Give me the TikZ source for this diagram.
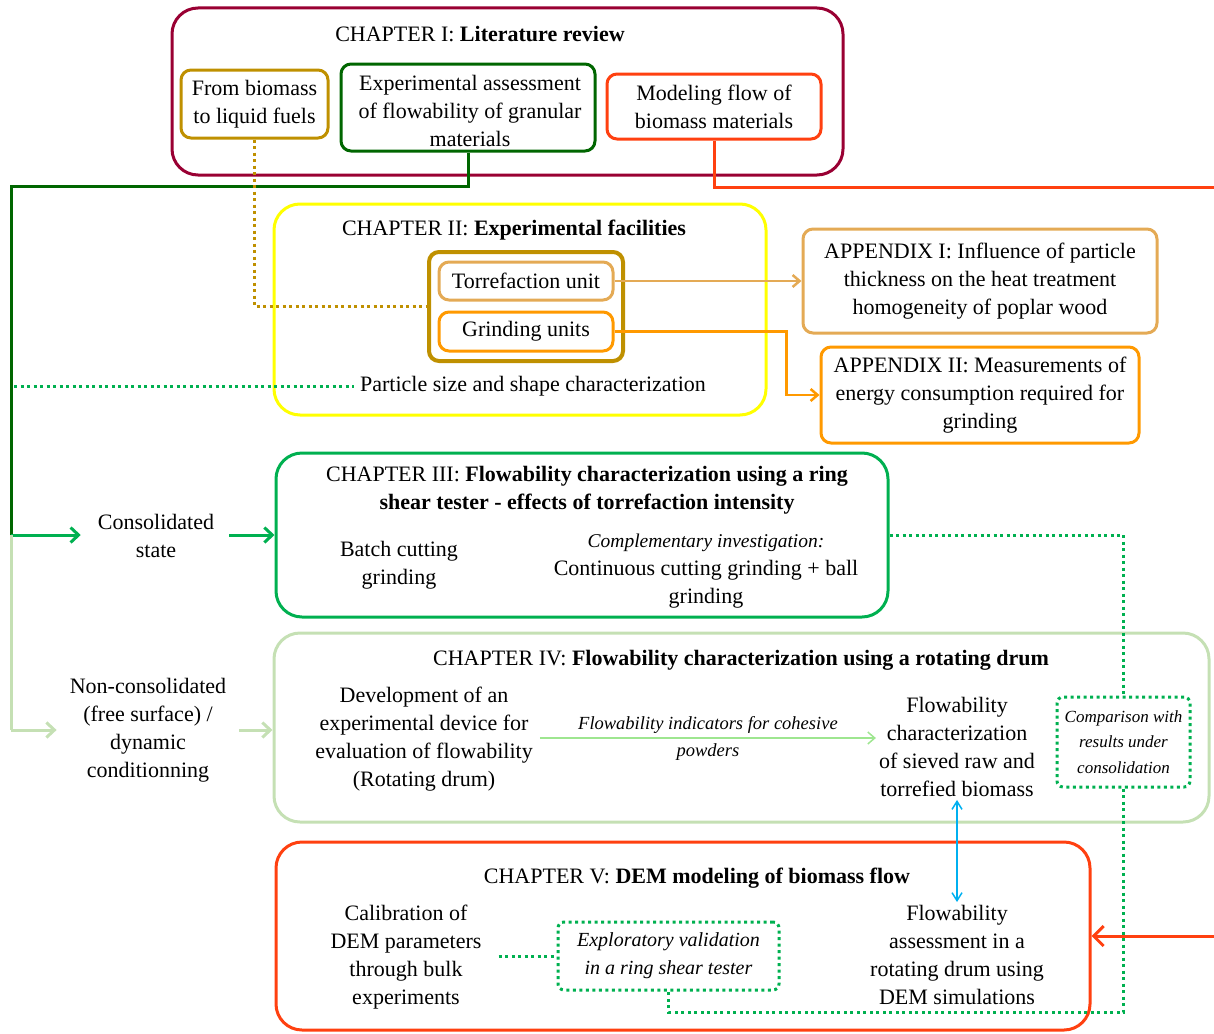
\documentclass[tikz,border=0pt]{standalone}
\usepackage{fontspec}
\setmainfont{Liberation Serif}
\usetikzlibrary{arrows.meta}
\definecolor{crimson}{RGB}{153,0,51}
\definecolor{gold}{RGB}{191,144,0}
\definecolor{dkgreen}{RGB}{0,102,0}
\definecolor{redor}{RGB}{255,64,16}
\definecolor{yel}{RGB}{255,255,0}
\definecolor{tan}{RGB}{228,170,85}
\definecolor{orng}{RGB}{255,153,0}
\definecolor{grn}{RGB}{0,176,80}
\definecolor{ltgreen}{RGB}{197,224,180}
\definecolor{blu}{RGB}{0,176,240}
\newcommand{\mainfs}{\fontsize{22}{28}\selectfont}
\begin{document}
\begin{tikzpicture}[x=1pt,y=-1pt,
  box/.style={draw,line width=3pt,rounded corners=10pt,inner sep=0pt,align=center,font=\mainfs},
  chap/.style={draw,line width=3pt,rounded corners=26pt,inner sep=0pt},
  txt/.style={align=center,inner sep=3pt,font=\mainfs},
  dotbox/.style={draw=grn,line width=3pt,dash pattern=on 3pt off 3.5pt,rounded corners=6pt,inner sep=0pt,align=center},
  dotline/.style={line width=3pt,dash pattern=on 3pt off 3.5pt},
  barb/.style={-{Straight Barb[length=8pt,width=15pt]}},
]
\useasboundingbox (0,0) rectangle (1214,1033);

% ---------- Chapter I ----------
\node[chap,draw=crimson,minimum width=671pt,minimum height=167pt] (ch1) at (507.5,91.5) {};
\node[txt] (t1) at (480,34) {CHAPTER I: \textbf{Literature review}};
\node[box,draw=gold,minimum width=147pt,minimum height=68pt] (fb) at (254.5,104) {From biomass\\to liquid fuels};
\node[box,draw=dkgreen,minimum width=254pt,minimum height=87pt] (ea) at (468,107.5) {};
\node[txt] (eatxt) at (470,111) {Experimental assessment\\of flowability of granular\\materials};
\node[box,draw=redor,minimum width=214pt,minimum height=65pt] (mf) at (714,106.5) {Modeling flow of\\biomass materials};

% ---------- Chapter II ----------
\node[chap,draw=yel,minimum width=492pt,minimum height=211pt] (ch2) at (520,309.5) {};
\node[txt] (t2) at (514,230) {CHAPTER II: \textbf{Experimental facilities}};
\node[draw=gold,line width=4pt,rounded corners=10pt,minimum width=194pt,minimum height=109pt] (grp) at (526,306.5) {};
\node[box,draw=tan,minimum width=174pt,minimum height=38pt] (torr) at (526,281) {Torrefaction unit};
\node[box,draw=orng,minimum width=174pt,minimum height=39pt] (grind) at (526,331.5) {Grinding units};
\node[txt,inner sep=6pt] (psc) at (533,386) {Particle size and shape characterization};
\node[box,draw=tan,minimum width=354pt,minimum height=104pt] (app1) at (980,281) {APPENDIX I: Influence of particle\\thickness on the heat treatment\\homogeneity of poplar wood};
\node[box,draw=orng,minimum width=318pt,minimum height=96pt] (app2) at (980,395) {APPENDIX II: Measurements of\\energy consumption required for\\grinding};

% ---------- Chapter III ----------
\node[chap,draw=grn,minimum width=612pt,minimum height=164pt] (ch3) at (582,535) {};
\node[txt] (t3) at (587,490) {CHAPTER III: \textbf{Flowability characterization using a ring}\\\textbf{shear tester - effects of torrefaction intensity}};
\node[txt] (batch) at (399,565) {Batch cutting\\grinding};
\node[txt] (compl) at (706,571) {{\fontsize{19.5}{28}\selectfont\itshape Complementary investigation:}\\Continuous cutting grinding + ball\\grinding};
\node[txt] (cons) at (156,535.5) {Consolidated\\state};

% ---------- Chapter IV ----------
\node[chap,draw=ltgreen,minimum width=935pt,minimum height=189pt] (ch4) at (741.5,727.5) {};
\node[txt] (t4) at (741,660) {CHAPTER IV: \textbf{Flowability characterization using a rotating drum}};
\node[txt] (noncons) at (148,730) {Non-consolidated\\(free surface) /\\dynamic\\conditionning};
\node[txt] (dev) at (424,739) {Development of an\\experimental device for\\evaluation of flowability\\(Rotating drum)};
\node[txt] (fc) at (957,747) {Flowability\\characterization\\of sieved raw and\\torrefied biomass};
\node[dotbox,minimum width=133pt,minimum height=90pt,font=\fontsize{17}{25.5}\selectfont\itshape] (comp) at (1123.5,742) {Comparison with\\results under\\consolidation};

% ---------- Chapter V ----------
\node[chap,draw=redor,minimum width=814pt,minimum height=188pt] (ch5) at (683,936) {};
\node[txt] (t5) at (697,878) {CHAPTER V: \textbf{DEM modeling of biomass flow}};
\node[txt] (calib) at (406,957) {Calibration of\\DEM parameters\\through bulk\\experiments};
\node[dotbox,minimum width=221pt,minimum height=68pt,font=\fontsize{20}{28}\selectfont\itshape] (expl) at (668.5,956) {Exploratory validation\\in a ring shear tester};
\node[txt] (fa) at (957,955) {Flowability\\assessment in a\\rotating drum using\\DEM simulations};

% ---------- coordinates ----------
\coordinate (gbend) at (11,186);
\coordinate (split) at (11,535);
\coordinate (lbend) at (11,730);
\coordinate (rbend) at (1217,187);
\coordinate (dotstart) at (14,386);
\coordinate (gbot) at (900,1012);

% ---------- connectors ----------
\draw[dkgreen,line width=3pt] (ea.south) |- (gbend) -- (split);
\draw[grn,line width=3pt,barb] (split) -- ([xshift=-14pt]cons.west |- split);
\draw[grn,line width=3pt,barb] ([xshift=12pt]cons.east |- ch3.west) -- (ch3.west);
\draw[ltgreen,line width=3pt] (split) -- (lbend);
\draw[ltgreen,line width=3pt,barb] (lbend) -- ([xshift=-10pt]noncons.west |- lbend);
\draw[ltgreen,line width=3pt,barb] ([xshift=10pt]noncons.east |- lbend) -- (ch4.west |- lbend);
\draw[redor,line width=3pt] (mf.south) |- (rbend);
\draw[redor,line width=3pt,-{Straight Barb[length=10pt,width=20pt]}] (rbend) |- (ch5.east);
\draw[gold,dotline] (fb.south) |- (grp.west);
\draw[tan,line width=2.5pt,-{Straight Barb[length=7pt,width=12pt]}] (torr.east) -- (app1.west);
\draw[orng,line width=2.5pt,-{Straight Barb[length=7pt,width=12pt]}] (grind.east) -- ++(172,0) |- (app2.west);
\draw[grn,dotline] (dotstart) -- (psc.west);
\draw[grn,dotline] (ch3.east) -| (comp.north);
\draw[grn,dotline] (comp.south) |- (gbot) -| (expl.south);
\draw[grn,dotline] ([xshift=14pt]calib.east |- expl.west) -- (expl.west);
\draw[ltgreen!80!green,line width=1.5pt,-{Straight Barb[length=7pt,width=12pt]}] ([xshift=4pt]dev.east |- 0,738) -- (fc.west |- 0,738)
  node[midway,align=center,font=\fontsize{18.5}{27}\selectfont\itshape,text=black] (ind) {Flowability indicators for cohesive\\powders};
\draw[blu,line width=1.5pt,{Straight Barb[length=8pt,width=10pt]}-{Straight Barb[length=8pt,width=10pt]}] (fc.south) -- (fa.north);
\end{tikzpicture}
\end{document}
